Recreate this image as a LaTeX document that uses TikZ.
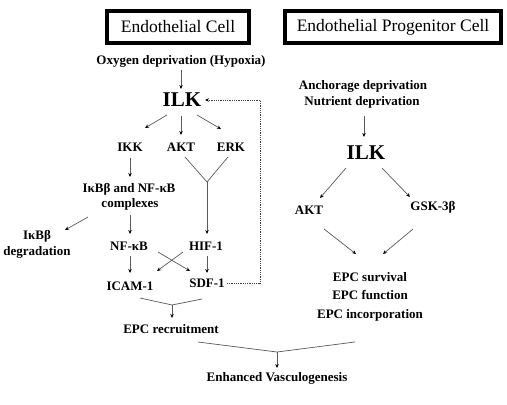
\documentclass[tikz,border=0pt]{standalone}
\usepackage{fontspec}
\setmainfont{Liberation Serif}
\usetikzlibrary{arrows.meta}
\begin{document}
\begin{tikzpicture}[x=1pt,y=-1pt,
  lbl/.style={font=\fontsize{13}{15}\selectfont\bfseries, inner sep=0pt, anchor=center},
  big/.style={font=\fontsize{21}{24}\selectfont\bfseries, inner sep=0pt, anchor=center},
  titlebox/.style={draw=black, line width=3.2pt, font=\fontsize{17.5}{20}\selectfont, inner sep=0pt},
  arr/.style={draw=black!65, line width=0.7pt, -{Stealth[length=4pt,width=3.5pt,black]}},
  ln/.style={draw=black!65, line width=0.7pt},
  dotline/.style={draw=black!75, line width=0.8pt, densely dotted}
]
\useasboundingbox (0,0) rectangle (507,405);
% title boxes
\node[titlebox, minimum width=142, minimum height=32] (tec) at (178,27) {Endothelial Cell};
\node[titlebox, minimum width=216, minimum height=32] (tepc) at (393,27) {Endothelial Progenitor Cell};

% left side
\node[lbl] (oxy) at (181,61) {Oxygen deprivation (Hypoxia)};
\node[big] (ilk1) at (182,100) {ILK};
\node[lbl] (ikk) at (130,147) {IKK};
\node[lbl] (akt1) at (181,147) {AKT};
\node[lbl] (erk) at (231,147) {ERK};
\node[lbl] (cpx1) at (129,189) {IκBβ and NF-κB};
\node[lbl] (cpx2) at (130,204) {complexes};
\node[lbl] (deg1) at (37,236) {IκBβ};
\node[lbl] (deg2) at (37,252) {degradation};
\node[lbl] (nfkb) at (129,246) {NF-κB};
\node[lbl] (hif) at (206,246) {HIF-1};
\node[lbl] (icam) at (130,286) {ICAM-1};
\node[lbl] (sdf) at (207,283) {SDF-1};
\node[lbl] (rec) at (171,329) {EPC recruitment};
\node[lbl] (vas) at (277,378) {Enhanced Vasculogenesis};

% right side
\node[lbl] (anc) at (363,86) {Anchorage deprivation};
\node[lbl] (nut) at (362,102) {Nutrient deprivation};
\node[big] (ilk2) at (366,153) {ILK};
\node[lbl] (akt2) at (309,210) {AKT};
\node[lbl] (gsk) at (433,207) {GSK-3β};
\node[lbl] (sur) at (370,277) {EPC survival};
\node[lbl] (fun) at (370,295) {EPC function};
\node[lbl] (inc) at (370,315) {EPC incorporation};

% coordinates for connector ends
\coordinate (yj) at (207,182);
\coordinate (m1) at (172,305);
\coordinate (m2) at (277,352);
\coordinate (dc1) at (260,283);
\coordinate (dc2) at (260,100);

% left connectors
\draw[arr] (181,70) -- (181,89);
\draw[arr] (167,115) -- (145,128);
\draw[arr] (181,116) -- (181,135);
\draw[arr] (197,115) -- (221,129);
\draw[arr] (130,158) -- (130,177);
\draw[arr] (88,217) -- (65,230);
\draw[arr] (130,215) -- (130,234);
\draw[ln] (185,157) -- (yj) -- (228,157);
\draw[arr] (yj) -- (207,234);
\draw[arr] (130,256) -- (130,273);
\draw[arr] (207,256) -- (207,273);
\draw[arr] (158,252) -- (190,271);
\draw[arr] (183,252) -- (157,271);
\draw[dotline] (227,283) -- (dc1) -- (dc2);
\draw[dotline, -{Stealth[length=4pt,width=3.5pt,black]}] (dc2) -- (205,100);
\draw[ln] (140,298) -- (m1) -- (202,299);
\draw[arr] (m1) -- (172,318);
\draw[ln] (198,342) -- (m2) -- (355,342);
\draw[arr] (m2) -- (277,368);

% right connectors
\draw[arr] (364,116) -- (364,137);
\draw[arr] (346,168) -- (320,198);
\draw[arr] (382,168) -- (410,197);
\draw[arr] (324,229) -- (356,254);
\draw[arr] (413,229) -- (383,254);
\end{tikzpicture}
\end{document}
